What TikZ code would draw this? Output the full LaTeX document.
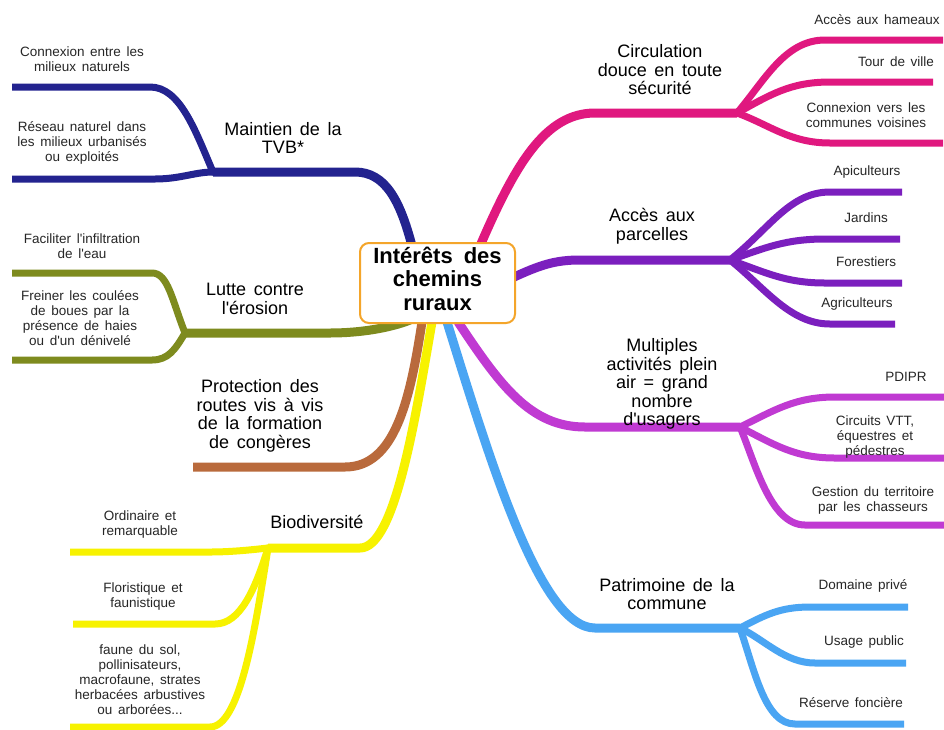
\documentclass[tikz,border=0pt]{standalone}
\usepackage{fontspec}
\newfontfamily\lsans{Liberation Sans}
\definecolor{navyc}{HTML}{23238F}
\definecolor{pinkc}{HTML}{E0187F}
\definecolor{violc}{HTML}{7B1FBE}
\definecolor{magc}{HTML}{C03AD2}
\definecolor{bluec}{HTML}{4AA5F3}
\definecolor{olivec}{HTML}{7E8B1E}
\definecolor{brownc}{HTML}{B96A3C}
\definecolor{yellc}{HTML}{F7F200}
\definecolor{orangec}{HTML}{F4A52A}
\begin{document}
\begin{tikzpicture}[x=1pt,y=-1pt,
  br/.style={line width=9pt, line join=round},
  sb/.style={line width=7pt, line join=round},
  lab/.style={font={\lsans\fontsize{13.5}{15}\selectfont\spaceskip=0.42em plus 0.1em\relax}, align=center, text=black!85, inner sep=0pt},
  head/.style={font={\lsans\fontsize{18}{18.5}\selectfont\spaceskip=0.42em plus 0.1em\relax}, align=center, text=black, inner sep=0pt},
  centre/.style={font={\lsans\bfseries\fontsize{22}{23.5}\selectfont\spaceskip=0.5em plus 0.1em\relax}, align=center, draw=orangec, line width=2pt, rounded corners=9pt, fill=white, minimum width=155pt, minimum height=80pt, inner sep=0pt}]
\fill[white] (0,0) rectangle (944,729);
\useasboundingbox (0,0) rectangle (944,729);

% ---------- coordinates ----------
\coordinate (nS) at (412,246);  \coordinate (nJ) at (213,172);
\coordinate (nE1) at (12,87);   \coordinate (nE2) at (12,179);
\coordinate (oS) at (410,320);  \coordinate (oJ) at (185,333);
\coordinate (oE1) at (12,273);  \coordinate (oE2) at (12,360);
\coordinate (bS) at (422,322);  \coordinate (bE) at (193,467);
\coordinate (yS) at (432,322);  \coordinate (yJ) at (268,548);
\coordinate (yE1) at (70,552);  \coordinate (yE2) at (73,624); \coordinate (yE3) at (70,727);
\coordinate (pS) at (480,246);  \coordinate (pJ) at (737,113);
\coordinate (pE1) at (943,40);  \coordinate (pE2) at (933,82); \coordinate (pE3) at (943,143);
\coordinate (vS) at (512,278);  \coordinate (vJ) at (730,260);
\coordinate (vE1) at (902,192); \coordinate (vE2) at (900,239); \coordinate (vE3) at (902,283); \coordinate (vE4) at (895,324);
\coordinate (mS) at (458,322);  \coordinate (mJ) at (740,427);
\coordinate (mE1) at (944,397); \coordinate (mE2) at (944,458); \coordinate (mE3) at (944,525);
\coordinate (lS) at (447,322);  \coordinate (lJ) at (740,628);
\coordinate (lE1) at (908,607); \coordinate (lE2) at (906,663); \coordinate (lE3) at (904,724);

% ---------- navy : Maintien de la TVB ----------
\draw[br,navyc] (nS) .. controls (400,200) and (385,172) .. (355,172) -- (nJ);
\draw[sb,navyc] ([xshift=10pt]nJ) -- (nJ) .. controls (195,130) and (180,87) .. (150,87) -- (nE1);
\draw[sb,navyc] ([xshift=10pt]nJ) -- (nJ) .. controls (195,172) and (180,179) .. (155,179) -- (nE2);

% ---------- olive : Lutte contre l'erosion ----------
\draw[br,olivec] (oS) .. controls (390,328) and (360,333) .. (330,333) -- (oJ);
\draw[sb,olivec] ([xshift=10pt]oJ) -- (oJ) .. controls (172,300) and (168,273) .. (152,273) -- (oE1);
\draw[sb,olivec] ([xshift=10pt]oJ) -- (oJ) .. controls (175,350) and (168,360) .. (152,360) -- (oE2);

% ---------- brown : Protection des routes ----------
\draw[br,brownc] (bS) .. controls (410,400) and (395,467) .. (345,467) -- (bE);

% ---------- yellow : Biodiversite ----------
\draw[br,yellc] (yS) .. controls (415,420) and (395,548) .. (360,548) -- (yJ);
\draw[sb,yellc] ([xshift=10pt]yJ) -- (yJ) .. controls (250,550) and (230,552) .. (210,552) -- (yE1);
\draw[sb,yellc] ([xshift=10pt]yJ) -- (yJ) .. controls (255,590) and (240,624) .. (215,624) -- (yE2);
\draw[sb,yellc] ([xshift=10pt]yJ) -- (yJ) .. controls (255,630) and (240,727) .. (210,727) -- (yE3);

% ---------- pink : Circulation ----------
\draw[br,pinkc] (pS) .. controls (515,165) and (545,113) .. (595,113) -- (pJ);
\draw[sb,pinkc] ([xshift=-10pt]pJ) -- (pJ) .. controls (765,80) and (785,40) .. (825,40) -- (pE1);
\draw[sb,pinkc] ([xshift=-10pt]pJ) -- (pJ) .. controls (770,95) and (790,82) .. (830,82) -- (pE2);
\draw[sb,pinkc] ([xshift=-10pt]pJ) -- (pJ) .. controls (770,125) and (790,143) .. (830,143) -- (pE3);

% ---------- violet : Acces aux parcelles ----------
\draw[br,violc] (vS) .. controls (540,265) and (555,260) .. (580,260) -- (vJ);
\draw[sb,violc] ([xshift=-10pt]vJ) -- (vJ) .. controls (770,228) and (790,192) .. (830,192) -- (vE1);
\draw[sb,violc] ([xshift=-10pt]vJ) -- (vJ) .. controls (765,248) and (785,239) .. (825,239) -- (vE2);
\draw[sb,violc] ([xshift=-10pt]vJ) -- (vJ) .. controls (765,272) and (785,283) .. (825,283) -- (vE3);
\draw[sb,violc] ([xshift=-10pt]vJ) -- (vJ) .. controls (765,288) and (790,324) .. (830,324) -- (vE4);

% ---------- magenta : Multiples activites ----------
\draw[br,magc] (mS) .. controls (500,385) and (530,427) .. (585,427) -- (mJ);
\draw[sb,magc] ([xshift=-10pt]mJ) -- (mJ) .. controls (775,410) and (795,397) .. (835,397) -- (mE1);
\draw[sb,magc] ([xshift=-10pt]mJ) -- (mJ) .. controls (775,445) and (795,458) .. (835,458) -- (mE2);
\draw[sb,magc] ([xshift=-10pt]mJ) -- (mJ) .. controls (755,462) and (770,525) .. (805,525) -- (mE3);

% ---------- blue : Patrimoine ----------
\draw[br,bluec] (lS) .. controls (490,460) and (540,628) .. (595,628) -- (lJ);
\draw[sb,bluec] ([xshift=-10pt]lJ) -- (lJ) .. controls (765,615) and (780,607) .. (810,607) -- (lE1);
\draw[sb,bluec] ([xshift=-10pt]lJ) -- (lJ) .. controls (765,640) and (785,663) .. (815,663) -- (lE2);
\draw[sb,bluec] ([xshift=-10pt]lJ) -- (lJ) .. controls (755,672) and (765,724) .. (795,724) -- (lE3);

% ---------- centre ----------
\node[centre] (c) at (437.5,283) {Intérêts des\\chemins\\ruraux\rule[-9pt]{0pt}{9pt}};

% ---------- headings ----------
\node[head] (hTVB) at (283,138) {Maintien de la\\TVB*};
\node[head] (hero) at (255,299) {Lutte contre\\l'érosion};
\node[head] (hrou) at (260,416) {Protection des\\routes vis à vis\\de la formation\\de congères};
\node[head] (hbio) at (317,522) {Biodiversité};
\node[head] (hcir) at (660,70) {Circulation\\douce en toute\\sécurité};
\node[head] (hacc) at (652,226) {Accès aux\\parcelles};
\node[head] (hmul) at (662,384) {Multiples\\activités plein\\air = grand\\nombre\\d'usagers};
\node[head] (hpat) at (667,594) {Patrimoine de la\\commune};

% ---------- leaves ----------
\node[lab] (l1) at (82,59) {Connexion entre les\\milieux naturels};
\node[lab] (l2) at (82,143) {Réseau naturel dans\\les milieux urbanisés\\ou exploités};
\node[lab] (l3) at (82,246) {Faciliter l'infiltration\\de l'eau};
\node[lab] (l4) at (80,318) {Freiner les coulées\\de boues par la\\présence de haies\\ou d'un dénivelé};
\node[lab] (l5) at (140,524) {Ordinaire et\\remarquable};
\node[lab] (l6) at (143,596) {Floristique et\\faunistique};
\node[lab] (l7) at (140,680) {faune du sol,\\pollinisateurs,\\macrofaune, strates\\herbacées arbustives\\ou arborées...};
\node[lab] (r1) at (877,20) {Accès aux hameaux};
\node[lab] (r2) at (896,62) {Tour de ville};
\node[lab] (r3) at (866,115) {Connexion vers les\\communes voisines};
\node[lab] (r4) at (867,172) {Apiculteurs};
\node[lab] (r5) at (866,218) {Jardins};
\node[lab] (r6) at (866,262) {Forestiers};
\node[lab] (r7) at (857,304) {Agriculteurs};
\node[lab] (r8) at (906,377) {PDIPR};
\node[lab] (r9) at (875,437) {Circuits VTT,\\équestres et\\pédestres};
\node[lab] (r10) at (873,500) {Gestion du territoire\\par les chasseurs};
\node[lab] (r11) at (863,586) {Domaine privé};
\node[lab] (r12) at (864,642) {Usage public};
\node[lab] (r13) at (851,703) {Réserve foncière};
\end{tikzpicture}
\end{document}
